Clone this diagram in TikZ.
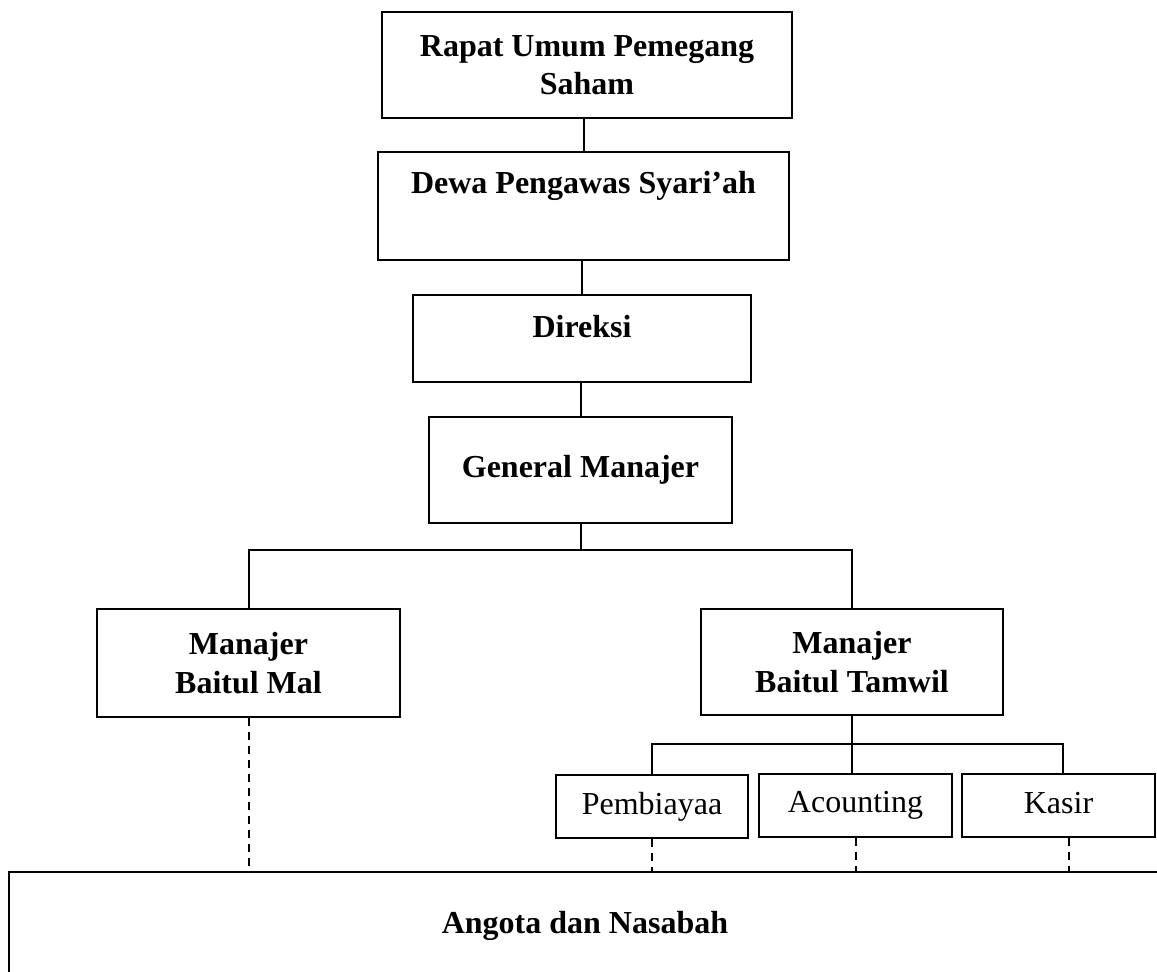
\documentclass[tikz,border=0pt]{standalone}
\usepackage{fontspec}
\setmainfont{Liberation Serif}
\usepackage{tikz}

\tikzset{
  orgbox/.style={rectangle,draw,line width=1pt,inner sep=0pt,align=center,font=\fontsize{16pt}{19.2pt}\selectfont\bfseries},
  subbox/.style={rectangle,draw,line width=1pt,inner sep=0pt,text height=11pt,text depth=3.5pt,font=\fontsize{16pt}{19.2pt}\selectfont},
  link/.style={line width=1pt},
  dashlink/.style={line width=1pt,dash pattern=on 4pt off 3pt}
}

\begin{document}
\begin{tikzpicture}[x=0.5pt,y=-0.5pt]
\useasboundingbox (0,0) rectangle (1157,971);
\clip (0,0) rectangle (1157,971);
\node[orgbox,minimum width=205pt,minimum height=53pt] (rups) at (587,65) {Rapat Umum Pemegang\\Saham};
\node[orgbox,minimum width=205.5pt,minimum height=54pt,text depth=23.6pt] (dps) at (583.5,206) {Dewa Pengawas Syari’ah};
\node[orgbox,minimum width=169pt,minimum height=43.5pt,text depth=12.4pt] (dir) at (582,338.5) {Direksi};
\node[orgbox,minimum width=151.5pt,minimum height=53pt] (gm) at (580.5,470) {General Manajer};
\node[orgbox,minimum width=151.5pt,minimum height=54pt] (mal) at (248.5,663) {Manajer\\Baitul Mal};
\node[orgbox,minimum width=151pt,minimum height=53pt] (tamwil) at (852,662) {Manajer\\Baitul Tamwil};
\node[subbox,minimum width=96pt,minimum height=31.5pt] (pemb) at (652,806.5) {Pembiayaa};
\node[subbox,minimum width=96.5pt,minimum height=31.5pt] (acct) at (855.5,805) {Acounting};
\node[subbox,minimum width=96.5pt,minimum height=31.5pt] (kasir) at (1058.5,805.5) {Kasir};
\node[orgbox,minimum width=576pt,minimum height=53.5pt] (ang) at (585,925.6) {Angota dan Nasabah};

\coordinate (gmbus) at (gm.south |- 0,550);
\coordinate (tmbus) at (tamwil.south |- 0,744);

\path[draw,link] (rups.south -| dps.north) -- (dps.north);
\path[draw,link] (dps.south -| dir.north) -- (dir.north);
\path[draw,link] (dir.south -| gm.north) -- (gm.north);
\path[draw,link] (gm.south) -- (gmbus);
\path[draw,link] (mal.north) |- (gmbus) -| (tamwil.north);
\path[draw,link] (tamwil.south) -- (tmbus);
\path[draw,link] (pemb.north) |- (tmbus) -| ([xshift=2pt]kasir.north);
\path[draw,link] (tmbus) -- (tmbus |- acct.north);
\path[draw,dashlink] (mal.south) -- (mal.south |- ang.north);
\path[draw,dashlink] (pemb.south) -- (pemb.south |- ang.north);
\path[draw,dashlink] (acct.south) -- (acct.south |- ang.north);
\path[draw,dashlink] ([xshift=5pt]kasir.south) -- ([xshift=5pt]kasir.south |- ang.north);
\end{tikzpicture}
\end{document}
